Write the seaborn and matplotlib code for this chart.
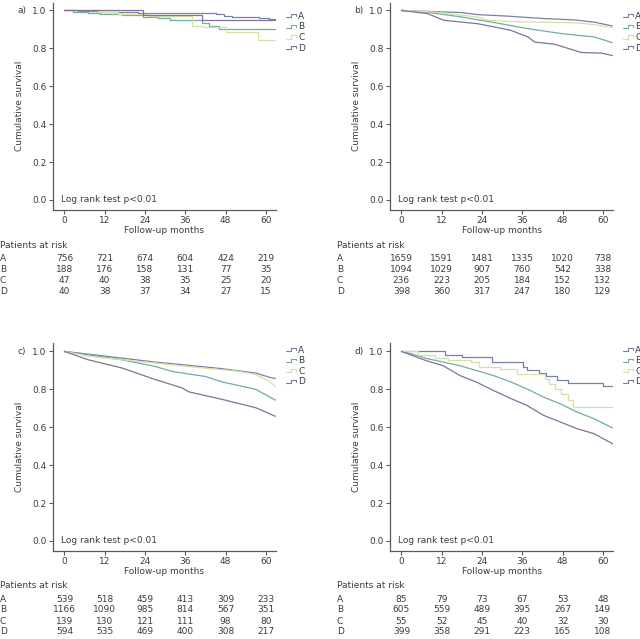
import numpy as np
import pandas as pd
import matplotlib
matplotlib.use("Agg")
import matplotlib.pyplot as plt
import seaborn as sns
from matplotlib.lines import Line2D
from matplotlib.legend_handler import HandlerBase

# ---------------- data ----------------
groups = ["A", "B", "C", "D"]
month_ticks = [0, 12, 24, 36, 48, 60]
y_ticks = [0.0, 0.2, 0.4, 0.6, 0.8, 1.0]

# panel a (stepped curves)
a_A_t = [0, 4, 10, 22, 45, 47.5, 50, 58, 61, 62.8]
a_A_s = [1.0, 0.995, 0.99, 0.987, 0.98, 0.972, 0.968, 0.962, 0.956, 0.956]
a_B_t = [0, 2.5, 7, 10.5, 17, 23.5, 28, 31.5, 36, 41, 43, 46, 62.8]
a_B_s = [1.0, 0.993, 0.988, 0.98, 0.975, 0.965, 0.958, 0.951, 0.948, 0.935, 0.92, 0.903, 0.903]
a_C_t = [0, 10, 16, 25, 37.9, 41.4, 48, 57.6, 62.8]
a_C_s = [1.0, 0.99, 0.98, 0.97, 0.92, 0.913, 0.886, 0.843, 0.843]
a_D_t = [0, 23.5, 41, 62.8]
a_D_s = [1.0, 0.976, 0.95, 0.95]

# panel b
b_A_t = [0, 8, 17.8, 22.8, 31.7, 42.7, 51.6, 57.6, 62.8]
b_A_s = [1.0, 0.995, 0.989, 0.978, 0.97, 0.957, 0.95, 0.938, 0.918]
b_B_t = [0, 7.8, 17.8, 27.7, 37.7, 47.6, 57.5, 62.8]
b_B_s = [1.0, 0.99, 0.966, 0.936, 0.904, 0.878, 0.86, 0.83]
b_C_t = [0, 5, 10.8, 17.8, 22.8, 25.8, 35.7, 51.6, 57.6, 62.8]
b_C_s = [1.0, 0.997, 0.99, 0.975, 0.965, 0.948, 0.94, 0.935, 0.925, 0.91]
b_D_t = [0, 7.8, 12.7, 22.7, 27.7, 32.6, 37.7, 39.7, 45.6, 49.6, 53.6, 59.6, 62.8]
b_D_s = [1.0, 0.983, 0.948, 0.93, 0.913, 0.895, 0.86, 0.833, 0.822, 0.80, 0.778, 0.775, 0.762]

# panel c
c_A_t = [0, 7.1, 17.1, 27, 37, 47, 57, 61, 62.8]
c_A_s = [1.0, 0.986, 0.965, 0.944, 0.927, 0.909, 0.886, 0.864, 0.857]
c_B_t = [0, 7.1, 17.1, 27, 32, 37, 42, 47, 57, 62.8]
c_B_s = [1.0, 0.983, 0.956, 0.921, 0.895, 0.881, 0.868, 0.839, 0.80, 0.743]
c_C_t = [0, 7.1, 17.1, 27, 37, 52, 57, 61, 62.8]
c_C_s = [1.0, 0.975, 0.956, 0.939, 0.92, 0.895, 0.878, 0.843, 0.815]
c_D_t = [0, 7.1, 17.1, 27, 35, 37, 47, 57, 62.8]
c_D_s = [1.0, 0.956, 0.913, 0.852, 0.808, 0.787, 0.747, 0.703, 0.658]

# panel d
d_A_t = [0, 13, 18, 27, 36.3, 37.5, 41, 43, 46.2, 49.6, 60, 63]
d_A_s = [1.0, 0.981, 0.969, 0.942, 0.916, 0.9, 0.885, 0.873, 0.852, 0.836, 0.82, 0.82]
d_B_t = [0, 3.5, 7.5, 17.4, 22.4, 27.4, 32.3, 37.3, 42.3, 47.3, 52.2, 57.2, 63]
d_B_s = [1.0, 0.985, 0.963, 0.925, 0.899, 0.873, 0.841, 0.803, 0.759, 0.724, 0.681, 0.646, 0.595]
d_C_t = [0, 5, 10, 14, 20.8, 23, 29.4, 34.3, 42.7, 44, 45.6, 47.5, 49.6, 51, 63]
d_C_s = [1.0, 0.98, 0.965, 0.955, 0.946, 0.92, 0.907, 0.881, 0.855, 0.829, 0.803, 0.776, 0.742, 0.707, 0.707]
d_D_t = [0, 7.5, 12.4, 17.4, 22.4, 27.4, 32.3, 37.3, 42.3, 47.3, 52.2, 57.2, 63]
d_D_s = [1.0, 0.951, 0.925, 0.873, 0.838, 0.794, 0.754, 0.716, 0.663, 0.628, 0.593, 0.567, 0.512]

# patients at risk
risk_a = {"A": [756, 721, 674, 604, 424, 219], "B": [188, 176, 158, 131, 77, 35],
          "C": [47, 40, 38, 35, 25, 20], "D": [40, 38, 37, 34, 27, 15]}
risk_b = {"A": [1659, 1591, 1481, 1335, 1020, 738], "B": [1094, 1029, 907, 760, 542, 338],
          "C": [236, 223, 205, 184, 152, 132], "D": [398, 360, 317, 247, 180, 129]}
risk_c = {"A": [539, 518, 459, 413, 309, 233], "B": [1166, 1090, 985, 814, 567, 351],
          "C": [139, 130, 121, 111, 98, 80], "D": [594, 535, 469, 400, 308, 217]}
risk_d = {"A": [85, 79, 73, 67, 53, 48], "B": [605, 559, 489, 395, 267, 149],
          "C": [55, 52, 45, 40, 32, 30], "D": [399, 358, 291, 223, 165, 108]}

panels = [
    ("a)", {"A": (a_A_t, a_A_s), "B": (a_B_t, a_B_s), "C": (a_C_t, a_C_s), "D": (a_D_t, a_D_s)},
     {"A": "steps-post", "B": "steps-post", "C": "steps-post", "D": "steps-post"}, risk_a),
    ("b)", {"A": (b_A_t, b_A_s), "B": (b_B_t, b_B_s), "C": (b_C_t, b_C_s), "D": (b_D_t, b_D_s)},
     {"A": "default", "B": "default", "C": "default", "D": "default"}, risk_b),
    ("c)", {"A": (c_A_t, c_A_s), "B": (c_B_t, c_B_s), "C": (c_C_t, c_C_s), "D": (c_D_t, c_D_s)},
     {"A": "default", "B": "default", "C": "default", "D": "default"}, risk_c),
    ("d)", {"A": (d_A_t, d_A_s), "B": (d_B_t, d_B_s), "C": (d_C_t, d_C_s), "D": (d_D_t, d_D_s)},
     {"A": "steps-post", "B": "default", "C": "steps-post", "D": "default"}, risk_d),
]

colors = {"A": "#7283a6", "B": "#6fae9c", "C": "#d6e0a4", "D": "#82729a"}

# ---------------- style ----------------
sns.set_theme(style="white")
plt.rcParams["font.family"] = ["DejaVu Sans"]
TXT = "#3c3c3c"
SPINE = "#5a5a5a"
FS = 6.5
plt.rcParams.update({"text.color": TXT, "axes.labelcolor": TXT,
                     "xtick.color": TXT, "ytick.color": TXT})


class StepHandler(HandlerBase):
    def create_artists(self, legend, orig_handle, xdescent, ydescent, width, height,
                       fontsize, trans):
        xs = np.array([0.0, 0.45, 0.45, 0.9, 0.9]) * width - xdescent
        ys = np.array([0.2, 0.2, 0.75, 0.75, 0.45]) * height - ydescent
        ln = Line2D(xs, ys, color=orig_handle.get_color(), lw=0.8, transform=trans)
        return [ln]


fig = plt.figure(figsize=(6.4, 6.39), dpi=100)
W, H = 640, 639
ax_w, ax_h = 223 / W, 207.5 / H
positions = [(53 / W, 1 - 210 / H), (390 / W, 1 - 210 / H),
             (53 / W, 1 - 551 / H), (390 / W, 1 - 551 / H)]
legend_y = [0.955, 0.955, 0.99, 0.99]
ax_px_h = 207.5

for (label, curves, styles, risk), (lx, by), ly in zip(panels, positions, legend_y):
    ax = fig.add_axes([lx, by, ax_w, ax_h])
    handles = []
    for g in groups:
        t, s = curves[g]
        df = pd.DataFrame({"month": t, "surv": s})
        sns.lineplot(data=df, x="month", y="surv", ax=ax, color=colors[g], lw=0.9,
                     drawstyle=styles[g], estimator=None, legend=False)
        handles.append(Line2D([], [], color=colors[g]))

    ax.set_xlim(-3.4, 63)
    ax.set_ylim(-0.053, 1.042)
    ax.set_xticks(month_ticks)
    ax.set_xticklabels([str(m) for m in month_ticks])
    ax.set_yticks(y_ticks)
    ax.set_yticklabels([f"{v:.1f}" for v in y_ticks])
    for sp in ["top", "right"]:
        ax.spines[sp].set_visible(False)
    for sp in ["left", "bottom"]:
        ax.spines[sp].set_color(SPINE)
        ax.spines[sp].set_linewidth(0.9)
    ax.tick_params(axis="both", labelsize=FS, length=3, width=0.8, color=SPINE, pad=1.5,
                   bottom=True, left=True, direction="out")
    ax.set_xlabel("Follow-up months", fontsize=FS)
    ax.set_ylabel("Cumulative survival", fontsize=FS)
    ax.xaxis.set_label_coords(0.5, -0.078)
    ax.yaxis.set_label_coords(-0.13, 0.5)
    ax.grid(False)

    ax.text(0.036, 0.0, "Log rank test p<0.01", fontsize=FS,
            transform=ax.get_yaxis_transform(), va="center", ha="left")
    ax.text(-0.14, 1.0, label, fontsize=FS, transform=ax.get_yaxis_transform(),
            va="center", ha="center")

    leg = ax.legend(handles, groups, loc="upper left", bbox_to_anchor=(1.045, ly),
                    frameon=False, fontsize=FS, handlelength=1.2, handleheight=0.6,
                    handletextpad=0.15, labelspacing=0.18, borderaxespad=0, borderpad=0,
                    handler_map={Line2D: StepHandler()})

    # patients at risk table
    ax.text(-0.238, -35 / ax_px_h, "Patients at risk", fontsize=FS, transform=ax.transAxes,
            va="center", ha="left", clip_on=False)
    trans = ax.get_xaxis_transform()
    for i, g in enumerate(groups):
        yy = -(48 + 11 * i) / ax_px_h
        ax.text(-0.238, yy, g, fontsize=FS, transform=ax.transAxes, va="center", ha="left")
        for m, n in zip(month_ticks, risk[g]):
            ax.text(m, yy, str(n), fontsize=FS, transform=trans, va="center", ha="center")

fig.savefig("out.png", dpi=100, facecolor="white")
